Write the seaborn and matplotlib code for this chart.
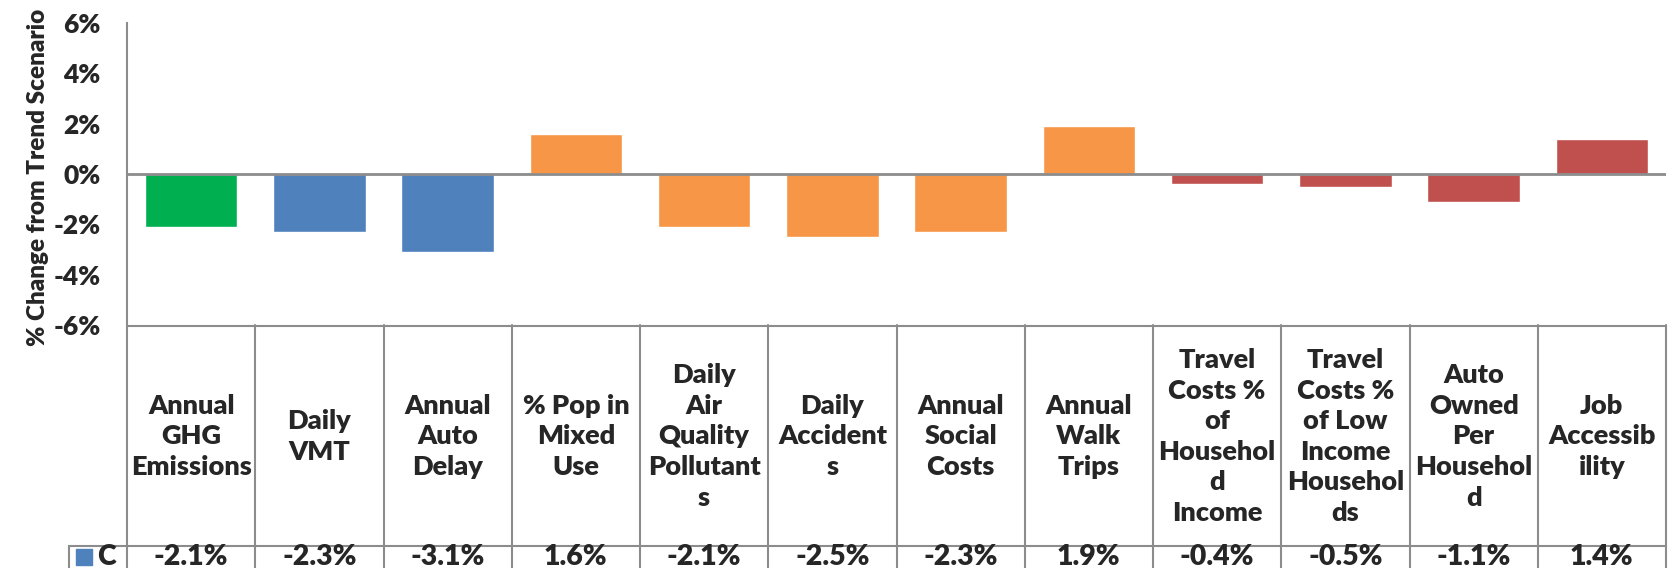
import matplotlib
matplotlib.use("Agg")
import matplotlib.pyplot as plt
import seaborn as sns

sns.set_style("white")
plt.rcParams['font.family'] = ['Lato', 'DejaVu Sans']
plt.rcParams['font.weight'] = 'bold'

# data
categories = ["Annual\nGHG\nEmissions", "Daily\nVMT", "Annual\nAuto\nDelay", "% Pop in\nMixed\nUse",
              "Daily\nAir\nQuality\nPollutant\ns", "Daily\nAccident\ns", "Annual\nSocial\nCosts",
              "Annual\nWalk\nTrips", "Travel\nCosts %\nof\nHousehol\nd\nIncome",
              "Travel\nCosts %\nof Low\nIncome\nHousehol\nds", "Auto\nOwned\nPer\nHousehol\nd",
              "Job\nAccessib\nility"]
values = [-2.1, -2.3, -3.1, 1.6, -2.1, -2.5, -2.3, 1.9, -0.4, -0.5, -1.1, 1.4]
groups = ["ghg", "vmt", "vmt", "land", "land", "land", "land", "land", "cost", "cost", "cost", "cost"]
group_colors = {"ghg": "#00B050", "vmt": "#4F81BD", "land": "#F79646", "cost": "#C0504D"}
series_name = "C"
yticks = [-6, -4, -2, 0, 2, 4, 6]

W, H = 1668, 568
fig = plt.figure(figsize=(W / 100, H / 100), dpi=100)
left, right, top, bottom = 127, 1666, 23, 325
ax = fig.add_axes([left / W, 1 - bottom / H, (right - left) / W, (bottom - top) / H])

ids = [str(i) for i in range(len(values))]
pal = {i: group_colors[g] for i, g in zip(ids, groups)}
sns.barplot(x=ids, y=values, hue=ids, palette=pal, width=0.72, saturation=1,
            legend=False, ax=ax)
ax.set_xlim(-0.5, len(values) - 0.5)
ax.set_ylim(-6, 6)
ax.set_yticks(yticks)
ax.set_yticklabels([f"{t}%" for t in yticks], fontsize=19, fontweight='heavy')
ax.tick_params(axis='y', length=0, pad=19)
ax.set_xticks([])
ax.set_xlabel("")
ax.set_ylabel("% Change from Trend Scenario", fontsize=17.5, fontweight='heavy')
ax.yaxis.set_label_coords(-0.051, 0.49)
for s in ["top", "right", "bottom"]:
    ax.spines[s].set_visible(False)
ax.spines["left"].set_color("#8C8C8C")
ax.spines["left"].set_linewidth(1.5)
ax.axhline(0, color="#8C8C8C", lw=2)

# data table under the chart
tab_h = H - bottom
tx = fig.add_axes([left / W, 0, (right - left) / W, tab_h / H])
tx.set_xlim(-0.5, len(values) - 0.5)
tx.set_ylim(tab_h, 0)
tx.axis("off")
grid = "#8C8C8C"
head_y = 546 - bottom
col_w = (right - left) / len(values)
key_x = -0.5 - (left - 69) / col_w
for i in range(len(values) + 1):
    tx.plot([i - 0.5, i - 0.5], [0, tab_h], color=grid, lw=1.5, clip_on=False)
tx.plot([-0.5, len(values) - 0.5], [1, 1], color=grid, lw=1.5, clip_on=False)
tx.plot([key_x, len(values) - 0.5], [head_y, head_y], color=grid, lw=1.5, clip_on=False)
tx.plot([key_x, key_x], [head_y, tab_h], color=grid, lw=1.5, clip_on=False)
for i, (c, v) in enumerate(zip(categories, values)):
    tx.text(i, head_y / 2 + 1, c, ha="center", va="center", fontsize=19.5,
            fontweight="heavy", linespacing=1.33)
    tx.text(i, 232, f"{v:.1f}%", ha="center", va="center", fontsize=20.5, fontweight="heavy")
tx.scatter([key_x + 0.12], [232], marker="s", s=120, color="#4F81BD", clip_on=False)
tx.text(key_x + 0.22, 232, series_name, ha="left", va="center", fontsize=20.5, fontweight="heavy")

fig.savefig("out.png", dpi=100)
